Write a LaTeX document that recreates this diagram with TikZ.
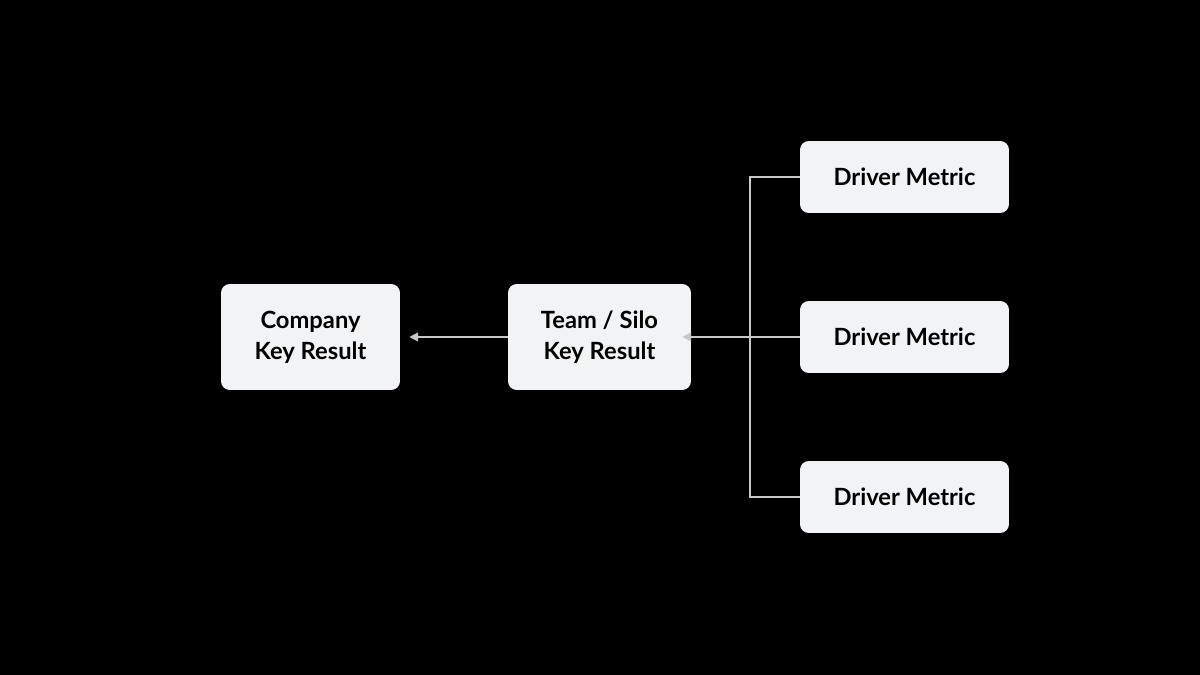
\documentclass[tikz,border=0pt]{standalone}
\usepackage{fontspec}
\setmainfont{Lato}
\usetikzlibrary{arrows.meta}
\begin{document}
\begin{tikzpicture}[x=0.02cm,y=-0.02cm,
  box/.style={fill=boxc,rounded corners=5pt,align=center,inner sep=0pt,
    font=\fontsize{13.5}{17.5}\selectfont\bfseries,text=black},
  conn/.style={draw=linec,line width=1pt},
  arr/.style={conn,-{Triangle[length=5pt,width=5pt]}}]
\definecolor{boxc}{HTML}{F1F3F5}
\definecolor{linec}{HTML}{C8C8C8}
\fill[black] (0,0) rectangle (1200,675);
\useasboundingbox (0,0) rectangle (1200,675);
\node[box,minimum width=3.58cm,minimum height=2.12cm] (c) at (310.5,337) {Company\\Key Result};
\node[box,minimum width=3.66cm,minimum height=2.12cm] (t) at (599.5,337) {Team / Silo\\Key Result};
\node[box,minimum width=4.18cm,minimum height=1.44cm] (d1) at (904.5,177) {Driver Metric};
\node[box,minimum width=4.18cm,minimum height=1.44cm] (d2) at (904.5,337) {Driver Metric};
\node[box,minimum width=4.18cm,minimum height=1.44cm] (d3) at (904.5,497) {Driver Metric};
\coordinate (s1) at (750,177);
\coordinate (s3) at (750,497);
\draw[conn] (d1.west) -- (s1) -- (s3) -- (d3.west);
\draw[arr] (d2.west) -- ([xshift=-0.18cm]t.east);
\draw[arr] (t.west) -- ([xshift=0.18cm]c.east);
\end{tikzpicture}
\end{document}
